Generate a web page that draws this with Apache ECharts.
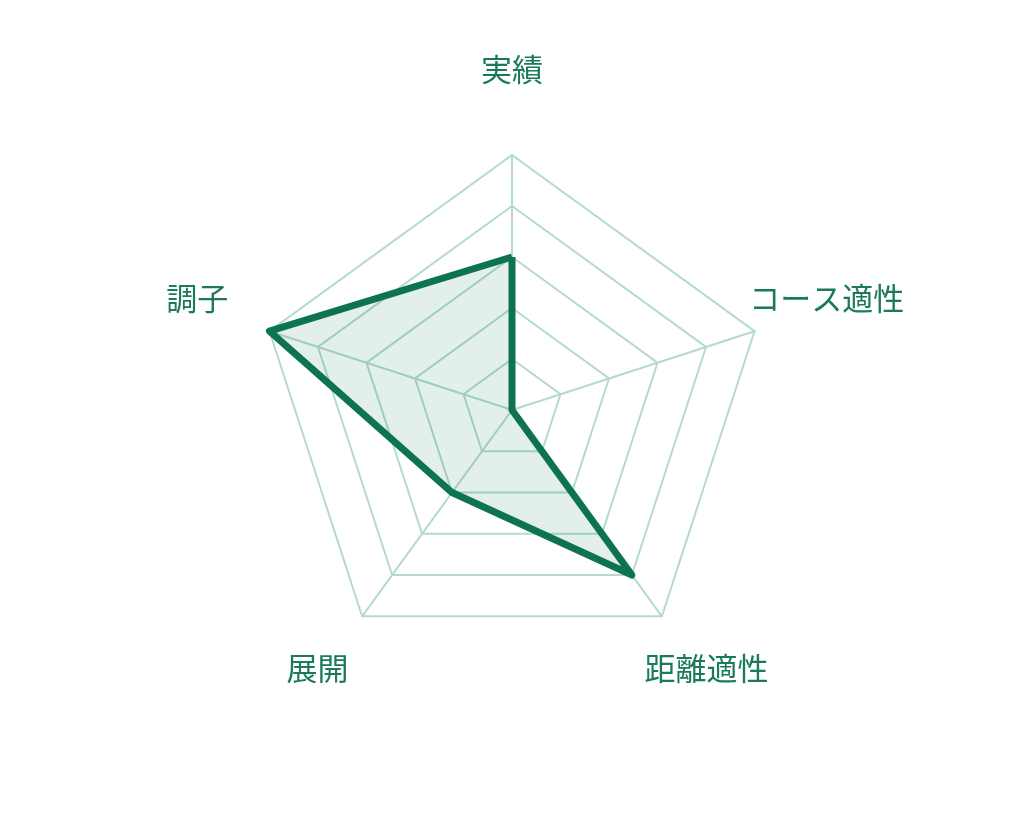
<!DOCTYPE html>
<html>
<head>
<meta charset="utf-8">
<style>
  html, body { margin: 0; padding: 0; background: #ffffff; }
  #chart { width: 1024px; height: 820px; }
</style>
<script src="https://cdn.jsdelivr.net/npm/echarts@6/dist/echarts.min.js"></script>
</head>
<body>
<div id="chart"></div>
<script>
// Indicators in ECharts order (counter-clockwise from top)
const indicatorNames = ['実績', '調子', '展開', '距離適性', 'コース適性'];
const indicatorMax = [5, 5, 5, 5, 5];
const seriesValues = [3, 5, 2, 4, 0];

const chart = echarts.init(document.getElementById('chart'));
chart.setOption({
  backgroundColor: '#ffffff',
  animation: false,
  radar: {
    center: ['50%', '50%'],
    radius: 255,
    startAngle: 90,
    splitNumber: 5,
    shape: 'polygon',
    nameGap: 76,
    axisName: {
      color: '#1a7a5a',
      fontSize: 31,
      lineHeight: 19,
      fontFamily: '"Noto Sans CJK JP", "Noto Sans", sans-serif',
      align: 'center',
      verticalAlign: 'middle',
      // second (empty) line lifts the name a little above its anchor
      formatter: function (name) { return name + '\n '; }
    },
    indicator: indicatorNames.map((n, i) => ({ name: n, max: indicatorMax[i], min: 0 })),
    axisLine: { lineStyle: { color: '#b3dacc', width: 2 } },
    splitLine: { lineStyle: { color: '#b3dacc', width: 2 } },
    splitArea: { show: false },
    axisTick: { show: false },
    axisLabel: { show: false }
  },
  series: [{
    type: 'radar',
    symbol: 'none',
    lineStyle: { color: '#0d7352', width: 7 },
    areaStyle: { color: 'rgba(13,115,82,0.17)' },
    data: [{ value: seriesValues, name: '評価' }]
  }]
});
</script>
</body>
</html>
